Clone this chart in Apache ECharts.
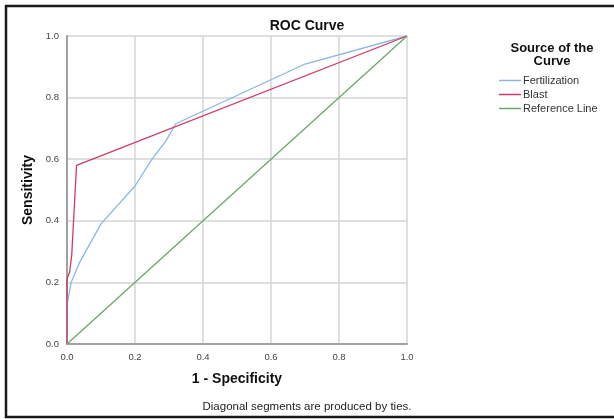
<!DOCTYPE html>
<html>
<head>
<meta charset="utf-8">
<script src="https://cdn.jsdelivr.net/npm/echarts@6/dist/echarts.min.js"></script>
<style>
    html, body { margin: 0; padding: 0; background: #fff; }
    #chart { width: 614px; height: 419px; }
</style>
</head>
<body>
<div id="chart"></div>
<script>
// ======================
// DATA
// ======================

const seriesNames = ['Fertilization', 'Blast', 'Reference Line'];

const fertX = [0, 0, 0.012, 0.037, 0.10, 0.20, 0.25, 0.29, 0.32, 0.70, 1];
const fertY = [0, 0.125, 0.20, 0.265, 0.39, 0.513, 0.60, 0.658, 0.715, 0.909, 1];

const blastX = [0, 0, 0.008, 0.014, 0.028, 1];
const blastY = [0, 0.21, 0.235, 0.29, 0.58, 1];

const refX = [0, 1];
const refY = [0, 1];

const tickValues = [0, 0.2, 0.4, 0.6, 0.8, 1.0];

// ======================
// HELPERS
// ======================

const FONT = 'Liberation Sans, Arial, sans-serif';
const COLORS = ['#8ab7e2', '#d03a62', '#6aa86a'];

function pairs(xs, ys) {
    return xs.map((x, i) => [x, ys[i]]);
}

function axisBase() {
    return {
        type: 'value',
        min: tickValues[0],
        max: tickValues[tickValues.length - 1],
        interval: 0.2,
        axisLine: { show: true, lineStyle: { color: '#a0a0a0', width: 2 } },
        axisTick: { show: false },
        axisLabel: {
            color: '#444',
            fontSize: 9.5,
            fontFamily: FONT,
            formatter: v => v.toFixed(1)
        },
        splitLine: { show: true, lineStyle: { color: '#d4d4d4', width: 1.5 } },
        nameLocation: 'middle',
        nameTextStyle: { color: '#111', fontSize: 14, fontWeight: 'bold', fontFamily: FONT }
    };
}

// ======================
// CHART
// ======================

const chart = echarts.init(document.getElementById('chart'), null, { renderer: 'canvas' });

const option = {
    backgroundColor: '#fff',
    animation: false,
    title: [
        {
            text: 'ROC Curve',
            left: 302, top: 14, textAlign: 'center',
            textStyle: { fontSize: 14, fontWeight: 'bold', color: '#111', fontFamily: FONT }
        },
        {
            text: 'Source of the\nCurve',
            left: 547, top: 37, textAlign: 'center',
            textStyle: { fontSize: 13, fontWeight: 'bold', color: '#111', fontFamily: FONT, lineHeight: 13 }
        },
        {
            text: 'Diagonal segments are produced by ties.',
            left: 302, top: 396, textAlign: 'center',
            textStyle: { fontSize: 11.5, fontWeight: 'normal', color: '#222', fontFamily: FONT }
        }
    ],
    legend: {
        orient: 'vertical',
        left: 494,
        top: 70,
        itemGap: 3,
        itemWidth: 22,
        itemHeight: 1.5,
        icon: 'rect',
        data: seriesNames,
        textStyle: { fontSize: 11, color: '#333', fontFamily: FONT, padding: [0, 0, 0, -3] }
    },
    grid: { left: 67, right: 207, top: 36, bottom: 75 },
    xAxis: Object.assign(axisBase(), { name: '1 - Specificity', nameGap: 28 }),
    yAxis: Object.assign(axisBase(), { name: 'Sensitivity', nameGap: 31 }),
    graphic: [
        {
            type: 'rect',
            silent: true,
            shape: { x: 6, y: 6, width: 640, height: 411 },
            style: { fill: null, stroke: '#1a1a1a', lineWidth: 2.5 }
        }
    ],
    series: [
        [fertX, fertY],
        [blastX, blastY],
        [refX, refY]
    ].map(([xs, ys], i) => ({
        name: seriesNames[i],
        type: 'line',
        data: pairs(xs, ys),
        showSymbol: false,
        symbol: 'none',
        lineStyle: { color: COLORS[i], width: 1.3 },
        itemStyle: { color: COLORS[i] }
    }))
};

chart.setOption(option);
</script>
</body>
</html>
